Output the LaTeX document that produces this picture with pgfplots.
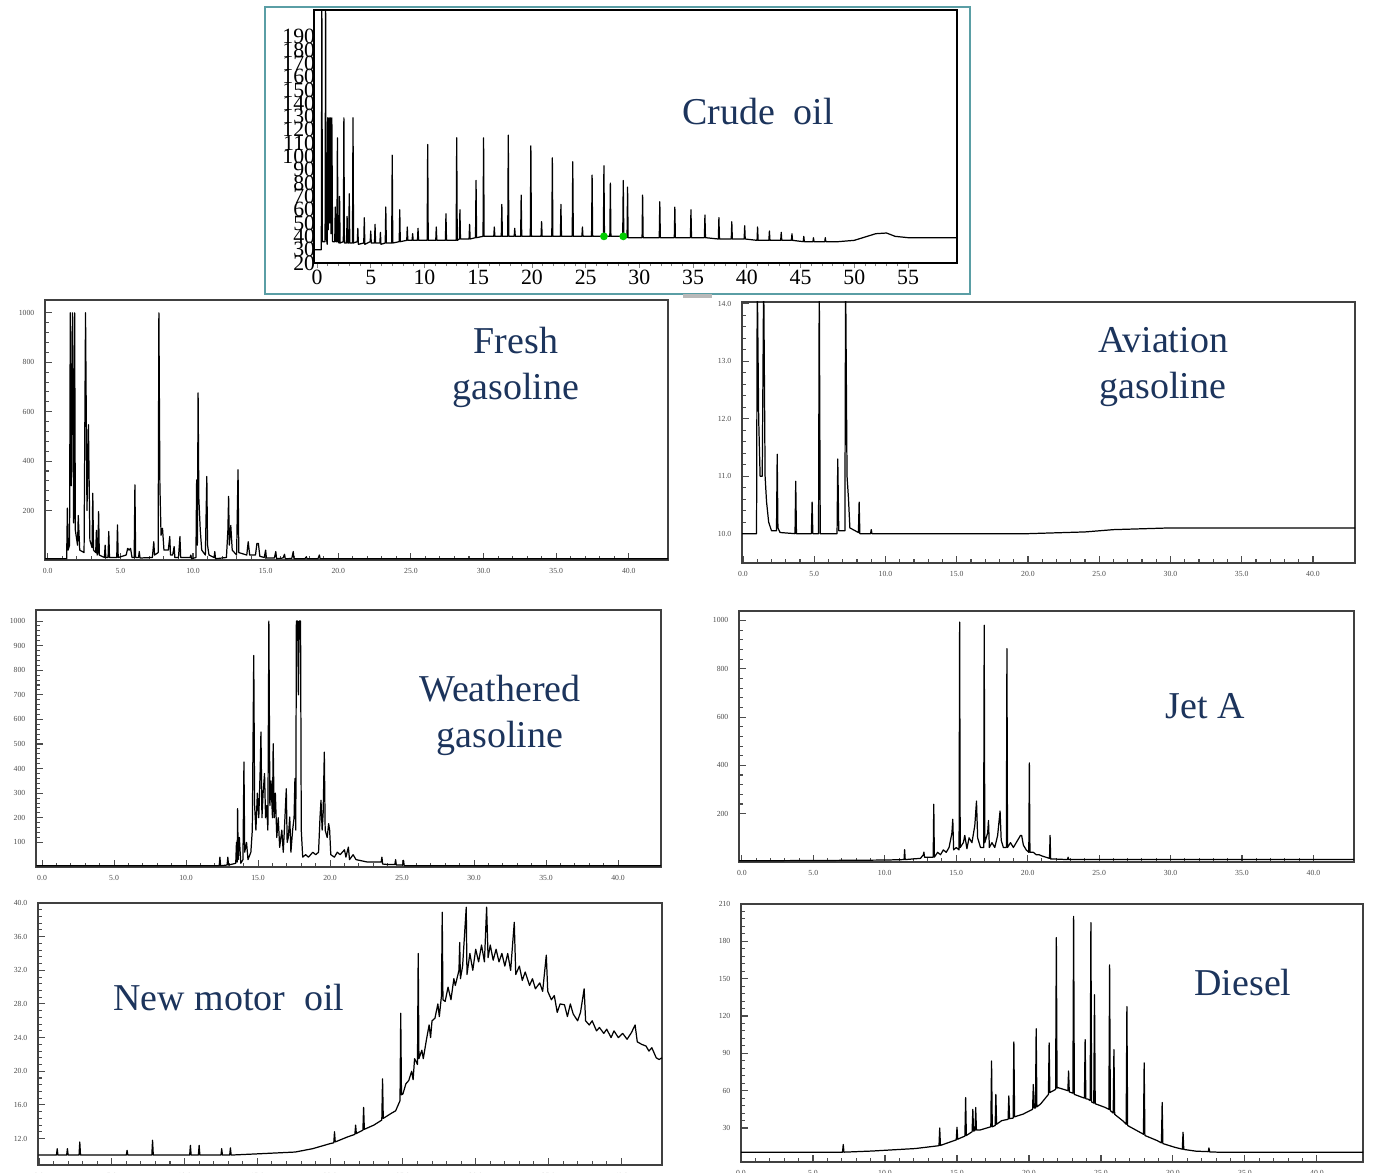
\documentclass[border=0pt]{standalone}
\usepackage{pgfplots}
\pgfplotsset{compat=1.18}
\usepackage{fontspec}
\setmainfont{Liberation Serif}
\definecolor{navytxt}{RGB}{28,52,92}
\definecolor{tealframe}{RGB}{90,158,165}

% small scanned chromatogram panels
\pgfplotsset{
  chrom/.style={
    scale only axis, anchor=south west, clip=true,
    axis line style={black!75, line width=0.45pt},
    tick pos=left, tick align=inside,
    major tick length=2pt, minor tick length=1.1pt,
    minor x tick num=4, minor y tick num=4,
    tick style={black!70, line width=0.3pt},
    ticklabel style={font=\fontsize{2.2}{2.4}\selectfont, text=black!70},
    xtick={0,5,...,40},
    xticklabel style={/pgf/number format/fixed, /pgf/number format/fixed zerofill, /pgf/number format/precision=1, yshift=1.2pt},
    yticklabel style={/pgf/number format/1000 sep={}, xshift=0.5pt},
    /pgf/number format/assume math mode=true,
  },
  trace/.style={black, line width=0.35pt, mark=none, line join=round},
}
\newcommand{\ttl}{\fontsize{10.8}{13.1}\selectfont}

\begin{document}
\begin{tikzpicture}
\useasboundingbox (0,0) rectangle (13.75,11.73);

% ---------- Crude oil ----------
\draw[tealframe, line width=0.6pt] (2.65,8.79) rectangle (9.70,11.66);
\fill[gray!55] (6.83,8.75) rectangle (7.12,8.79);
\begin{axis}[
  scale only axis, anchor=south west, at={(3.14cm,9.10cm)},
  width=6.43cm, height=2.53cm,
  xmin=-0.28, xmax=59.56, ymin=20, ymax=210,
  axis line style={black, line width=0.5pt},
  xtick={0,5,...,55}, ytick={20,30,...,190},
  tick pos=left, tick align=outside,
  minor x tick num=4,
  major tick length=1.5pt, minor tick length=1pt,
  ytick style={draw=none},
  ticklabel style={font=\fontsize{6.2}{6.5}\selectfont},
  xticklabel style={yshift=3pt},
  yticklabel style={inner sep=0.5pt, xshift=2.5pt},
  /pgf/number format/assume math mode=true,
]
\addplot[trace] coordinates {
(-0.3,30) (0.4,30) (0.45,215) (0.5,36) (0.75,36) (0.8,215) (0.85,40)
(0.95,34) (1.0,129) (1.05,45) (1.12,129) (1.18,50) (1.25,129) (1.3,42) (1.38,129) (1.45,36)
(1.65,36) (1.7,62) (1.75,36) (1.85,36) (1.9,114) (1.95,36)
(2.05,35) (2.1,70) (2.15,35) (2.45,36) (2.5,129) (2.55,35)
(2.75,35) (2.8,55) (2.85,35) (2.95,35) (3.0,72) (3.05,35) (3.3,35) (3.35,129) (3.4,35)
(3.75,36) (3.8,46) (3.85,34) (4.35,35) (4.4,54) (4.45,34) (4.95,36) (5.0,44) (5.05,35)
(5.35,35) (5.4,49) (5.45,35) (5.85,35) (5.9,43) (5.95,34) (6.35,35) (6.4,62) (6.45,35)
(6.95,35) (7.0,101) (7.05,35) (7.65,36) (7.7,60) (7.75,36) (8.35,37) (8.4,47) (8.45,37)
(8.85,37) (8.9,42) (8.95,37) (9.35,37) (9.4,46) (9.45,37) (10.25,37) (10.3,109) (10.35,37)
(11.05,37) (11.1,47) (11.15,37) (11.95,37) (12.0,57) (12.05,37) (12.95,37) (13.0,114) (13.05,37)
(13.25,38) (13.3,60) (13.35,38) (14.15,38) (14.2,49) (14.25,38) (14.75,39) (14.8,82) (14.85,39)
(15.45,40) (15.5,114) (15.55,40) (16.45,40) (16.5,47) (16.55,40) (17.15,40) (17.2,64) (17.25,40)
(17.75,40) (17.8,116) (17.85,40) (18.35,40) (18.4,46) (18.45,40) (18.95,40) (19.0,71) (19.05,40)
(19.85,40) (19.9,108) (19.95,40) (20.85,40) (20.9,51) (20.95,40) (21.85,40) (21.9,99) (21.95,40)
(22.65,40) (22.7,64) (22.75,40) (23.75,40) (23.8,96) (23.85,40) (24.65,40) (24.7,47) (24.75,40)
(25.55,40) (25.6,86) (25.65,40) (26.65,40) (26.7,93) (26.75,40) (27.25,40) (27.3,80) (27.35,40)
(28.45,40) (28.5,82) (28.55,40) (28.85,39) (28.9,77) (28.95,39) (30.25,39) (30.3,71) (30.35,39)
(31.85,39) (31.9,66) (31.95,39) (33.25,39) (33.3,62) (33.35,39) (34.75,39) (34.8,60) (34.85,39)
(36.05,39) (36.1,56) (36.15,39) (37.35,38) (37.4,54) (37.45,38) (38.55,38) (38.6,51) (38.65,38)
(39.75,38) (39.8,48) (39.85,38) (40.95,37) (41.0,47) (41.05,37) (42.05,37) (42.1,44) (42.15,37)
(43.15,37) (43.2,43) (43.25,37) (44.15,37) (44.2,42) (44.25,37) (45.25,36) (45.3,40) (45.35,36)
(46.15,36) (46.2,39) (46.25,36) (47.25,36) (47.3,39) (47.35,36) (48.5,36) (50,37) (51,39.5)
(52,42) (53,42.5) (53.8,40) (55,39) (59.6,39)
};
\addplot[only marks, mark=*, mark size=0.9pt, green!80!black] coordinates {(26.7,40) (28.5,40)};
\end{axis}
\node[font=\ttl, text=navytxt] at (7.58,10.61) {Crude\ \ oil};

% ---------- Fresh gasoline ----------
\begin{axis}[chrom, at={(0.45cm,6.13cm)}, width=6.23cm, height=2.60cm,
  xmin=-0.19, xmax=42.7, ymin=0, ymax=1052, ytick={200,400,...,1000}]
\addplot[trace] coordinates {
(-0.2,5) (1.2,5) (1.3,5) (1.35,210) (1.4,40) (1.5,60) (1.55,1000) (1.62,300) (1.7,1000) (1.78,150)
(1.85,1000) (1.9,120) (2.05,60) (2.1,180) (2.2,40) (2.5,30) (2.6,1000) (2.7,200) (2.8,547) (2.9,80)
(3.05,50) (3.1,270) (3.15,40) (3.3,30) (3.35,120) (3.4,20) (3.45,30) (3.5,196) (3.55,20)
(3.9,10) (3.95,60) (4.0,10) (4.15,10) (4.2,115) (4.25,10) (4.75,10) (4.8,142) (4.85,10)
(5.4,20) (5.5,47) (5.6,40) (5.7,47) (5.8,10) (5.95,10) (6.0,304) (6.05,10) (6.25,10) (6.3,34) (6.35,8)
(7.2,10) (7.3,74) (7.35,20) (7.6,30) (7.65,1000) (7.72,300) (7.8,100) (7.9,128) (8.0,40)
(8.3,40) (8.4,95) (8.45,20) (8.6,20) (8.7,54) (8.75,10) (9.0,10) (9.1,95) (9.15,10)
(9.8,10) (9.85,20) (9.9,5) (10.2,10) (10.25,324) (10.3,60) (10.35,676) (10.4,250) (10.5,120)
(10.6,40) (10.85,20) (10.95,338) (11.0,60) (11.1,20) (11.45,10) (11.5,34) (11.55,5)
(12.3,10) (12.4,120) (12.45,257) (12.5,60) (12.6,140) (12.7,40) (13.0,20) (13.1,365) (13.15,30)
(13.7,20) (13.8,74) (13.9,20) (14.3,20) (14.4,67) (14.5,67) (14.6,15) (14.9,10) (15.0,40) (15.05,8)
(15.6,8) (15.7,34) (15.75,5) (16.2,8) (16.3,23) (16.35,5) (16.8,6) (16.9,34) (16.95,5)
(17.7,5) (17.8,13) (17.85,5) (18.6,5) (18.7,20) (18.75,5) (42.7,5)
};
\end{axis}
\node[font=\ttl, text=navytxt, align=center] at (5.16,8.06) {Fresh\\gasoline};

% ---------- Aviation gasoline ----------
\begin{axis}[chrom, at={(7.42cm,6.10cm)}, width=6.13cm, height=2.61cm,
  xmin=-0.07, xmax=42.95, ymin=9.49, ymax=14.03, ytick={10,11,...,14},
  yticklabel style={/pgf/number format/fixed, /pgf/number format/fixed zerofill, /pgf/number format/precision=1}]
\addplot[trace] coordinates {
(-0.1,10) (0.95,10) (1.0,14.5) (1.1,12) (1.2,11) (1.35,11) (1.45,14.5) (1.55,11.0) (1.65,10.56)
(1.8,10.2) (2.0,10.05) (2.35,10.05) (2.4,11.38) (2.45,10.1) (2.6,10.02) (3.65,10.0) (3.7,10.91)
(3.75,10.0) (4.8,10.0) (4.85,10.55) (4.9,10.0) (5.3,10.0) (5.35,14.5) (5.42,10.0) (6.6,10.0)
(6.65,11.3) (6.72,10.05) (7.15,10.05) (7.2,14.5) (7.3,11) (7.4,10.62) (7.5,10.1) (8.1,10.02)
(8.15,10.55) (8.2,10.0) (8.95,10.0) (9.0,10.07) (9.05,10.0) (20,10.0) (24,10.03) (26,10.07)
(30,10.1) (43,10.1)
};
\end{axis}
\node[font=\ttl, text=navytxt, align=center] at (11.63,8.06) {Aviation\\gasoline};

% ---------- Weathered gasoline ----------
\begin{axis}[chrom, at={(0.36cm,3.06cm)}, width=6.25cm, height=2.57cm,
  xmin=-0.42, xmax=42.98, ymin=0, ymax=1045, ytick={100,200,...,1000}]
\addplot[trace] coordinates {
(-0.4,5) (12.3,5) (12.35,40) (12.4,5) (12.85,8) (12.9,40) (12.95,8) (13.45,15) (13.5,100) (13.55,20)
(13.58,237) (13.62,30) (13.7,120) (13.8,15) (13.95,30) (14.02,427) (14.07,60) (14.2,100) (14.3,30)
(14.5,60) (14.6,150) (14.7,860) (14.76,250) (14.85,150) (14.95,300) (15.05,200) (15.15,400)
(15.2,549) (15.27,200) (15.35,300) (15.45,380) (15.52,200) (15.6,250) (15.68,150) (15.75,1000)
(15.82,250) (15.9,350) (16.0,200) (16.05,501) (16.12,200) (16.2,300) (16.3,120) (16.4,200)
(16.5,80) (16.65,150) (16.75,60) (16.85,180) (16.96,318) (17.02,100) (17.1,120) (17.2,203)
(17.28,60) (17.4,150) (17.5,200) (17.56,360) (17.62,150) (17.66,1000) (17.75,1000) (17.8,700)
(17.86,1000) (17.95,1000) (18.0,150) (18.1,40) (18.3,50) (18.5,40) (18.8,60) (19.0,50) (19.2,60)
(19.3,200) (19.37,271) (19.45,150) (19.52,220) (19.6,467) (19.66,150) (19.8,120) (19.9,176)
(19.97,150) (20.05,50) (20.3,40) (20.5,60) (20.7,50) (21.0,70) (21.1,40) (21.27,81) (21.35,30)
(21.6,50) (21.8,30) (22.2,25) (22.6,20) (23.0,20) (23.55,20) (23.6,40) (23.65,12) (24.0,10)
(24.5,10) (24.55,30) (24.6,8) (25.05,8) (25.1,27) (25.15,5) (43,5)
};
\end{axis}
\node[font=\ttl, text=navytxt, align=center] at (5.00,4.575) {Weathered\\gasoline};

% ---------- Jet A ----------
\begin{axis}[chrom, at={(7.39cm,3.11cm)}, width=6.15cm, height=2.51cm,
  xmin=-0.2, xmax=42.84, ymin=0, ymax=1039, ytick={200,400,...,1000}]
\addplot[trace] coordinates {
(-0.2,5) (5,6) (10,8) (11.35,10) (11.39,51) (11.43,10) (12.5,15) (12.7,30) (12.74,41) (12.78,20)
(13.39,20) (13.43,239) (13.47,20) (13.7,40) (13.9,30) (14.1,50) (14.3,40) (14.5,60) (14.7,120)
(14.76,177) (14.82,50) (15.0,60) (15.2,50) (15.24,993) (15.28,60) (15.5,80) (15.6,110) (15.75,55)
(15.9,100) (16.1,80) (16.3,150) (16.42,252) (16.5,100) (16.7,60) (16.92,60) (16.96,980) (17.0,80)
(17.2,120) (17.26,172) (17.32,60) (17.5,80) (17.7,60) (17.9,110) (18.07,211) (18.15,90) (18.3,60)
(18.51,60) (18.55,883) (18.59,60) (18.8,80) (19.0,60) (19.3,90) (19.5,110) (19.58,110) (19.7,70)
(19.9,50) (20.08,40) (20.12,410) (20.16,40) (20.4,40) (20.6,30) (20.8,30) (21.0,25) (21.53,15)
(21.57,110) (21.61,12) (22.0,12) (22.79,10) (22.83,20) (22.87,10) (43,10)
};
\end{axis}
\node[font=\ttl, text=navytxt] at (12.05,4.67) {Jet A};

% ---------- New motor oil ----------
\begin{axis}[chrom, at={(0.38cm,0.08cm)}, width=6.24cm, height=2.62cm,
  xmin=-0.07, xmax=42.8, ymin=8.86, ymax=40, ytick={12,16,...,40},
  yticklabel style={/pgf/number format/fixed, /pgf/number format/fixed zerofill, /pgf/number format/precision=1}]
\addplot[trace] coordinates {
(-0.05,10.04) (1.2,10.04) (1.25,10.8) (1.3,10.04) (1.9,10.04) (1.95,10.8) (2.0,10.04) (2.75,10.04)
(2.8,11.6) (2.85,10.04) (6.0,10.04) (6.05,10.6) (6.1,10.04) (7.75,10.04) (7.8,11.8) (7.85,10.04)
(10.35,10.04) (10.4,11.2) (10.45,10.04) (10.95,10.04) (11.0,11.2) (11.05,10.04) (12.5,10.04)
(12.55,10.8) (12.6,10.04) (13.1,10.04) (13.15,10.9) (13.2,10.04) (15.2,10.2) (17.6,10.4)
(18.8,10.8) (20.0,11.4) (20.25,11.5) (20.3,12.8) (20.35,11.6) (21.2,12.2) (21.7,12.5) (21.75,13.6)
(21.8,12.6) (22.25,13.0) (22.3,15.7) (22.35,13.1) (23.0,13.6) (23.55,14.2) (23.6,19.1) (23.65,14.4)
(24.2,15.0) (24.5,15.3) (24.8,16.5) (24.85,26.9) (24.9,17.2) (25.0,17.3) (25.2,18.5) (25.4,18.9)
(25.6,20.0) (25.7,19.0) (25.8,21.5) (26.0,20.8) (26.05,34) (26.1,21.5) (26.3,22.5) (26.4,21.5)
(26.6,23.6) (26.8,25.5) (26.9,24.0) (27.0,26.0) (27.2,26.3) (27.4,28) (27.5,26.5) (27.65,29)
(27.7,38.9) (27.75,28.5) (27.9,28.3) (28.1,30) (28.3,28.5) (28.5,31) (28.6,30.2) (28.85,32)
(28.9,35.3) (28.95,31) (29.1,32.5) (29.35,39.5) (29.4,31.5) (29.6,34) (29.8,32) (30.0,34.5)
(30.2,33) (30.4,35) (30.6,33) (30.75,39.5) (30.85,33.5) (31.0,35) (31.2,33.2) (31.4,34.5)
(31.6,33) (31.8,34) (32.0,32.5) (32.2,34) (32.4,32) (32.65,37.7) (32.75,31.5) (33.0,32.5)
(33.2,30.8) (33.4,31.8) (33.7,30.2) (33.9,31) (34.1,29.8) (34.4,30.5) (34.6,29.5) (34.85,33.8)
(34.95,29.5) (35.2,28.5) (35.4,29) (35.6,27) (35.8,28) (36.1,27.9) (36.3,26.5) (36.5,28)
(36.7,26.8) (37.0,26) (37.2,27) (37.45,29.8) (37.55,26) (37.8,25.5) (38.0,26) (38.3,24.8)
(38.5,25.2) (38.8,24.5) (39.0,25) (39.3,24) (39.5,24.8) (39.8,24) (40.1,24.5) (40.4,23.8)
(40.7,24.6) (40.95,25.5) (41.1,23.5) (41.4,23.2) (41.7,23) (41.9,22.4) (42.1,22.8) (42.4,21.6)
(42.6,21.4) (42.8,21.6)
};
\end{axis}
\node[font=\ttl, text=navytxt] at (2.29,1.75) {New motor\ \ oil};

% ---------- Diesel ----------
\begin{axis}[chrom, at={(7.41cm,0.11cm)}, width=6.22cm, height=2.58cm,
  xmin=0, xmax=43.2, ymin=2.7, ymax=210, ytick={30,60,...,210}]
\addplot[trace] coordinates {
(0,10.6) (7.05,10.6) (7.1,16.8) (7.15,10.6) (9.1,11.5) (12.1,13.5) (13.75,15.8) (13.8,30) (13.85,16)
(14.95,20.5) (15.0,30.6) (15.05,21) (15.1,21.3) (15.55,23.5) (15.6,54.5) (15.65,24) (16.05,27)
(16.1,45) (16.15,27.5) (16.25,28) (16.3,46.5) (16.35,28.4) (16.6,28.4) (17.35,31) (17.4,83.8)
(17.45,31) (17.65,32) (17.7,57) (17.75,33) (18.1,35.9) (18.55,37) (18.6,55.8) (18.65,37.5)
(18.9,38) (18.95,99.2) (19.0,39) (19.6,41.2) (20.25,45) (20.3,65) (20.35,46) (20.45,46)
(20.5,109.8) (20.55,47) (20.8,49.2) (21.35,57) (21.4,98.4) (21.45,58.5) (21.85,61) (21.9,183)
(21.95,62) (22.0,62.5) (22.7,60) (22.75,75.8) (22.8,59) (23.05,58) (23.1,200) (23.15,57) (23.85,54)
(23.9,101) (23.95,53.5) (24.1,53.2) (24.25,52) (24.3,195) (24.35,51) (24.5,50) (24.55,137)
(24.6,49.5) (25.3,46.5) (25.55,45) (25.6,161) (25.65,44) (25.85,42) (25.9,93) (25.95,41)
(26.5,35.9) (26.75,33) (26.8,127.6) (26.85,32) (27.7,26.6) (27.95,25) (28.0,82.4) (28.05,24)
(28.9,19.9) (29.2,18) (29.25,50.5) (29.3,17.5) (30.1,14.6) (30.65,13) (30.7,26.6) (30.75,12.8)
(31.6,11.4) (32.45,11) (32.5,14) (32.55,10.8) (33.1,10.6) (43.2,10.6)
};
\end{axis}
\node[font=\ttl, text=navytxt] at (12.43,1.90) {Diesel};
\end{tikzpicture}
\end{document}
